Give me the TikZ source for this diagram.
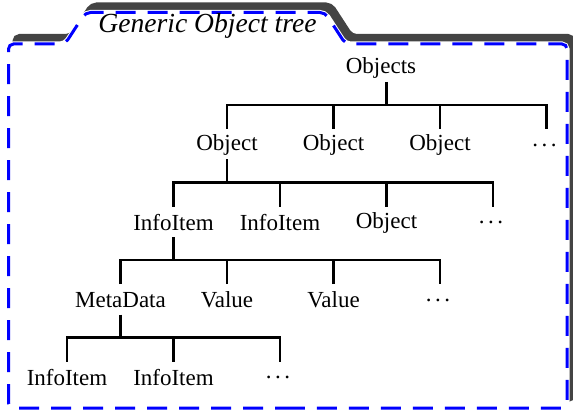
\documentclass[tikz,border=0pt]{standalone}
\usepackage{fontspec}
\setmainfont{Liberation Serif}
\definecolor{shadowgray}{RGB}{68,68,68}
\definecolor{folderblue}{RGB}{0,0,255}
\newcommand\mydots{.\kern3.5pt.\kern3.5pt.\kern4pt}
\begin{document}
\begin{tikzpicture}[x=1pt,y=-1pt,
  lbl/.style={inner sep=0pt, font=\fontsize{23}{27}\selectfont},
  ttl/.style={inner sep=0pt, anchor=base, font=\fontsize{27.6}{32}\selectfont\itshape},
  edge/.style={line width=2.2pt, black},
  folderpath/.style={rounded corners=5pt, insert path={(300,408) -- (8.5,408) -- (8.5,44) -- (65,44) -- (85.5,12.5) -- (325,12.5) -- (345.5,44) -- (567,44) -- (567,408) -- cycle}}
]
\useasboundingbox (0,0) rectangle (573,417);
% folder
\path[fill=shadowgray, draw=shadowgray, line width=4pt, shift={(6,-8)}, folderpath];
\path[fill=white, draw=white, line width=5pt, folderpath];
\path[draw=folderblue, line width=3pt, dash pattern=on 20pt off 12pt, folderpath];
\node[ttl] (title) at (207.5,33) {Generic Object tree};
% nodes
\node[lbl] (r) at (381,67.5) {Objects};
\node[lbl] (o1) at (227,145) {Object};
\node[lbl] (o2) at (333.5,145) {Object};
\node[lbl] (o3) at (440,145) {Object};
\node[lbl] (d2) at (546.5,145) {\mydots};
\node[lbl] (i1) at (173.5,222.5) {InfoItem};
\node[lbl] (i2) at (280,222.5) {InfoItem};
\node[lbl] (o4) at (386.5,222.5) {Object};
\node[lbl] (d3) at (493,222.5) {\mydots};
\node[lbl] (m) at (120.5,300) {MetaData};
\node[lbl] (v1) at (227,300) {Value};
\node[lbl] (v2) at (333.5,300) {Value};
\node[lbl] (d4) at (440,300) {\mydots};
\node[lbl] (j1) at (67,377.5) {InfoItem};
\node[lbl] (j2) at (173.5,377.5) {InfoItem};
\node[lbl] (d5) at (280,377.5) {\mydots};
% parent stems
\draw[edge] ([xshift=5.5pt,yshift=-14.5pt]r.center) -- ([xshift=5.5pt,yshift=-37.5pt]r.center);
\foreach \p in {o1,i1,m}
  \draw[edge] ([yshift=-14.5pt]\p.center) -- ([yshift=-37.5pt]\p.center);
% bars with outer children
\draw[edge] ([yshift=16pt]o1.center) -- ([yshift=40pt]o1.center) -- ([yshift=40pt]d2.center) -- ([yshift=16pt]d2.center);
\draw[edge] ([yshift=16pt]i1.center) -- ([yshift=40pt]i1.center) -- ([yshift=40pt]d3.center) -- ([yshift=16pt]d3.center);
\draw[edge] ([yshift=16pt]m.center) -- ([yshift=40pt]m.center) -- ([yshift=40pt]d4.center) -- ([yshift=16pt]d4.center);
\draw[edge] ([yshift=16pt]j1.center) -- ([yshift=40pt]j1.center) -- ([yshift=40pt]d5.center) -- ([yshift=16pt]d5.center);
% inner children
\foreach \c in {o2,o3,i2,o4,v1,v2,j2}
  \draw[edge] ([yshift=16pt]\c.center) -- ([yshift=40pt]\c.center);
\end{tikzpicture}
\end{document}
